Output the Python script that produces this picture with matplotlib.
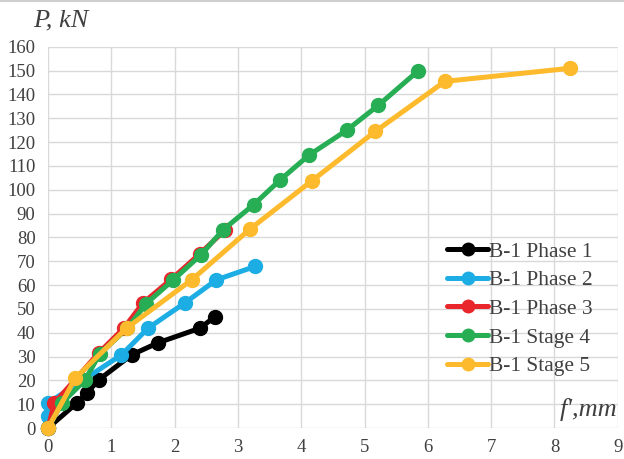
import matplotlib.pyplot as plt
import numpy as np

plt.rcParams['font.family'] = ['Liberation Serif', 'DejaVu Serif']

labels = ['B-1 Phase 1', 'B-1 Phase 2', 'B-1 Phase 3', 'B-1 Stage 4', 'B-1 Stage 5']
colors = ['#000000', '#1BADE3', '#E8262B', '#27AE55', '#FDBA2C']

x1 = [0, 0.45, 0.61, 0.8, 1.32, 1.74, 2.4, 2.64]
y1 = [0, 10.4, 14.6, 20.2, 30.7, 35.8, 41.9, 46.8]
x2 = [0, 0, 0, 1.16, 1.58, 2.16, 2.66, 3.27]
y2 = [0, 5, 10.5, 30.7, 41.9, 52.5, 62.2, 67.8]
x3 = [0, 0.1, 0.8, 1.2, 1.5, 1.95, 2.4, 2.8]
y3 = [0, 10.5, 31.5, 42, 52.5, 62.5, 73.2, 83.2]
x4 = [0, 0.22, 0.58, 0.82, 1.25, 1.55, 1.98, 2.42, 2.77, 3.25, 3.67, 4.12, 4.72, 5.22, 5.85]
y4 = [0, 10.5, 20, 31.2, 41.8, 52.2, 62.2, 72.8, 83.3, 93.8, 104.2, 114.5, 125, 135.5, 150]
x5 = [0, 0.43, 1.24, 2.27, 3.19, 4.17, 5.17, 6.27, 8.25]
y5 = [0, 20.9, 41.9, 62.2, 83.5, 103.8, 124.5, 145.5, 151]

xs = [x1, x2, x3, x4, x5]
ys = [y1, y2, y3, y4, y5]

fig = plt.figure(figsize=(6.24, 4.59), dpi=100)
ax = fig.add_axes([0.077, 0.0675, 0.913, 0.8305])

for x, y, c, lab in zip(xs, ys, colors, labels):
    ax.plot(x, y, color=c, lw=3.6, marker='o', ms=10, label=lab,
            solid_capstyle='round', clip_on=False, zorder=3)

ax.set_xlim(0, 9)
ax.set_ylim(0, 160)
ax.set_xticks(np.arange(0, 10, 1))
ax.set_yticks(np.arange(0, 170, 10))
ax.grid(True, color='#d9d9d9', lw=1)
ax.set_axisbelow(True)
for s in ax.spines.values():
    s.set_visible(False)
ax.tick_params(length=0, labelsize=13.5, colors='#404040')
ax.tick_params(axis='x', pad=8)
ax.tick_params(axis='y', pad=9)

fig.text(0.053, 0.956, 'P, kN', fontsize=19, style='italic', color='#404040', va='center')
ax.text(8.99, 3, "f',mm", fontsize=19, style='italic', color='#404040', ha='right', va='bottom')

ax.legend(loc='lower right', bbox_to_anchor=(0.99, 0.085), frameon=False, fontsize=15.5,
          handlelength=1.9, handletextpad=0.05, labelspacing=0.4, labelcolor='#404040',
          markerscale=0.9)

fig.add_artist(plt.Line2D([0, 1], [0.998, 0.998], color='#d0d0d0', lw=1.5))

fig.savefig('out.png', dpi=100)
